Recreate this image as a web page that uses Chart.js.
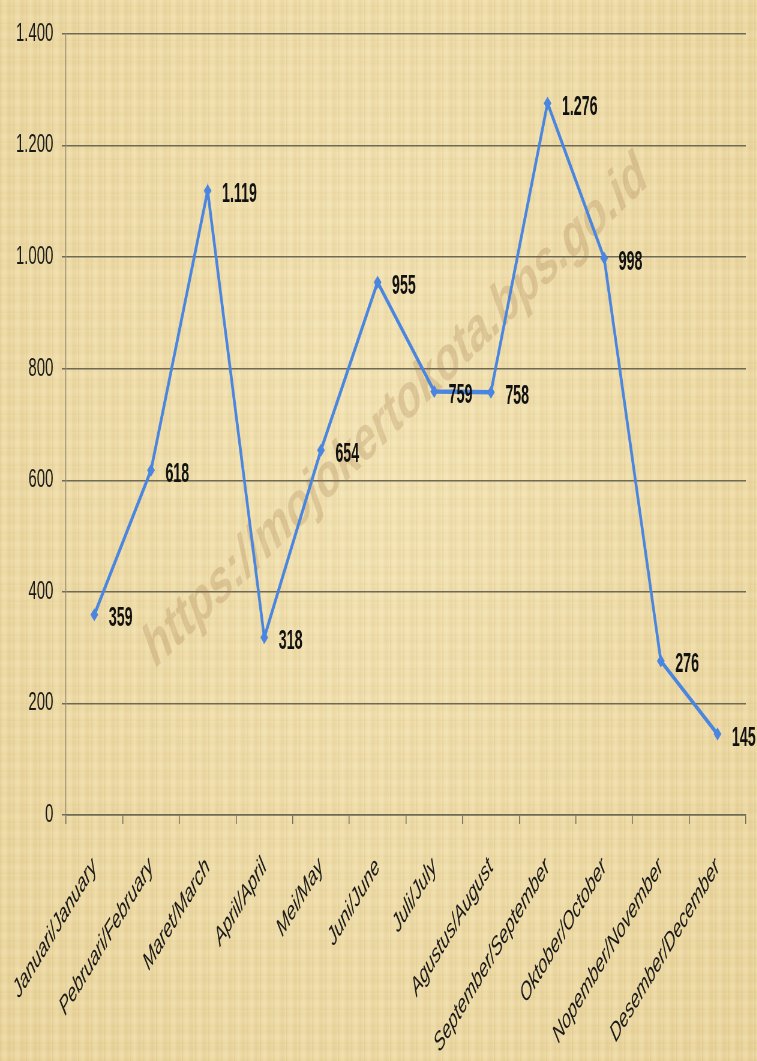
<!DOCTYPE html>
<html>
<head>
<meta charset="utf-8">
<script src="https://cdn.jsdelivr.net/npm/chart.js@4/dist/chart.umd.min.js"></script>
<style>
  html, body { margin:0; padding:0; }
  body {
    width:757px; height:1061px; overflow:hidden; position:relative;
    background-color:#eedca9;
    background-image:
      repeating-linear-gradient(90deg, rgba(150,110,40,0.10) 0px, rgba(150,110,40,0.0) 2px, rgba(255,245,210,0.14) 5px, rgba(150,110,40,0.07) 9px, rgba(255,240,200,0.0) 13px),
      repeating-linear-gradient(0deg, rgba(160,120,50,0.06) 0px, rgba(255,240,200,0.0) 3px, rgba(255,245,215,0.10) 7px, rgba(160,120,50,0.04) 12px, rgba(255,240,200,0.0) 17px),
      radial-gradient(ellipse at 50% 40%, rgba(250,238,195,0.5), rgba(225,195,125,0.25));
  }
  #wrap { position:absolute; left:0; top:0; width:1262px; height:1061px; transform:scaleX(0.6); transform-origin:0 0; }
</style>
</head>
<body>
<div id="wrap"><canvas id="c" width="1262" height="1061"></canvas></div>
<script>
const categories = ["Januari/January","Pebruari/February","Maret/March","April/April","Mei/May","Juni/June","Juli/July","Agustus/August","September/September","Oktober/October","Nopember/November","Desember/December"];
const values = [359, 618, 1119, 318, 654, 955, 759, 758, 1276, 998, 276, 145];
const yTicks = [0, 200, 400, 600, 800, 1000, 1200, 1400];
const watermark = "https://mojokertokota.bps.go.id";

function fmt(v){ return String(v).replace(/\B(?=(\d{3})+(?!\d))/g, "."); }

const FONT = '"Liberation Sans", Arial, sans-serif';

const labelPlugin = {
  id:'labels',
  afterDatasetsDraw(chart){
    const ctx = chart.ctx;
    const meta = chart.getDatasetMeta(0);
    ctx.save();
    ctx.font = 'bold 27px ' + FONT;
    ctx.fillStyle = '#111';
    ctx.textAlign = 'left';
    ctx.textBaseline = 'middle';
    meta.data.forEach((pt, i) => {
      ctx.save();
      ctx.translate(pt.x + 24, pt.y + 4);
      ctx.scale(0.88, 1);
      ctx.fillText(fmt(values[i]), 0, 0);
      ctx.restore();
    });
    ctx.restore();
  }
};

const watermarkPlugin = {
  id:'wm',
  beforeDatasetsDraw(chart){
    const ctx = chart.ctx;
    ctx.save();
    ctx.translate(660, 412);
    ctx.rotate(-Math.atan2(500, 850));
    ctx.font = 'bold 64px ' + FONT;
    ctx.fillStyle = 'rgba(150,105,60,0.22)';
    ctx.textAlign = 'center';
    ctx.textBaseline = 'middle';
    ctx.fillText(watermark, 0, 0);
    ctx.restore();
  }
};

new Chart(document.getElementById('c'), {
  type:'line',
  data:{
    labels: categories,
    datasets:[{
      data: values,
      borderColor:'#4a86e0',
      backgroundColor:'#4a86e0',
      borderWidth:4.5,
      pointStyle:'rectRot',
      pointRadius:6.5,
      pointBorderWidth:0,
      tension:0,
      fill:false
    }]
  },
  options:{
    responsive:false,
    animation:false,
    devicePixelRatio:1,
    layout:{ padding:{ left:0, top:34, right:19, bottom:0 } },
    plugins:{ legend:{display:false}, tooltip:{enabled:false} },
    scales:{
      x:{
        offset:true,
        afterFit(axis){ axis.height = 246; axis.paddingLeft = 0; axis.paddingRight = 0; },
        grid:{ offset:true, drawOnChartArea:false, drawTicks:true, tickLength:9, color:'#6f6a55', lineWidth:1.5 },
        border:{ display:true, color:'#6f6a55', width:1.5 },
        ticks:{
          color:'#1a1a1a',
          font:{ family:FONT, size:26, style:'italic' },
          minRotation:45, maxRotation:45,
          autoSkip:false,
          padding:28
        }
      },
      y:{
        min:0, max:1400,
        afterFit(axis){ axis.width = 110; axis.paddingTop = 0; axis.paddingBottom = 0; },
        afterBuildTicks(axis){ axis.ticks = yTicks.map(v => ({value:v})); },
        grid:{ color:'#6f6a55', lineWidth:1.5, tickLength:7, drawTicks:true },
        border:{ display:true, color:'#8a846a', width:1.2 },
        ticks:{
          color:'#1a1a1a',
          font:{ family:FONT, size:25 },
          padding:14,
          callback:(v) => fmt(v)
        }
      }
    }
  },
  plugins:[labelPlugin, watermarkPlugin]
});
</script>
</body>
</html>
